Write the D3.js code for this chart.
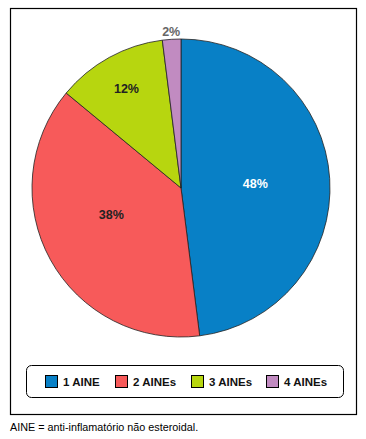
<!DOCTYPE html>
<html>
<head>
<meta charset="utf-8">
<script src="https://cdn.jsdelivr.net/npm/d3@7"></script>
<style>
  body { margin: 0; background: #fff; }
  text { font-family: "Liberation Sans", Arial, sans-serif; }
</style>
</head>
<body>
<script>
// categories and shares (%)
var categories = ["1 AINE", "2 AINEs", "3 AINEs", "4 AINEs"];
var values = [48, 38, 12, 2];
var colors = ["#0880c6", "#f75a5a", "#b7d60f", "#c18bc1"];

var width = 366, height = 439;

var svg = d3.select("body").append("svg")
    .attr("width", width)
    .attr("height", height);

// outer frame
svg.append("rect")
    .attr("x", 10.5).attr("y", 8.5)
    .attr("width", 346).attr("height", 406)
    .attr("fill", "none")
    .attr("stroke", "#000")
    .attr("stroke-width", 1.2);

var cx = 181, cy = 188, r = 149;

var pie = d3.pie().sort(null).value(function(d) { return d; });
var arc = d3.arc().innerRadius(0).outerRadius(r);
var arcs = pie(values);

var g = svg.append("g")
    .attr("transform", "translate(" + cx + "," + cy + ")");

g.selectAll("path")
    .data(arcs)
    .enter().append("path")
    .attr("d", arc)
    .attr("fill", function(d, i) { return colors[i]; })
    .attr("stroke", "#222")
    .attr("stroke-width", 0.8);

// labels: big slices closer to the centre, the tiny one outside
function labelRadius(v) {
  if (v >= 30) return r * 0.5;
  if (v >= 5) return r * 0.76;
  return r * 1.05;
}

g.selectAll(".lbl")
    .data(arcs)
    .enter().append("text")
    .attr("class", "lbl")
    .attr("transform", function(d) {
      var lr = labelRadius(d.data);
      // nudge the 38% label a little further round, as in the original
      var shift = (d.data == 38) ? 0.14 : 0;
      var a = d3.arc().innerRadius(lr).outerRadius(lr);
      var c = a.centroid({startAngle: d.startAngle + shift, endAngle: d.endAngle + shift});
      return "translate(" + c + ")";
    })
    .attr("dy", "0.35em")
    .attr("text-anchor", "middle")
    .style("font-size", "12.5px")
    .style("font-weight", "bold")
    .attr("fill", function(d, i) {
      if (i == 0) return "#fff";
      if (d.data < 5) return "#666";
      return "#222";
    })
    .text(function(d) { return d.data + "%"; });

// legend
svg.append("rect")
    .attr("x", 26.5).attr("y", 365.5)
    .attr("width", 317).attr("height", 32)
    .attr("rx", 5).attr("ry", 5)
    .attr("fill", "#fff")
    .attr("stroke", "#000")
    .attr("stroke-width", 1);

var legendX = [45, 115, 191, 266];

var item = svg.selectAll(".leg")
    .data(categories)
    .enter().append("g")
    .attr("class", "leg")
    .attr("transform", function(d, i) { return "translate(" + legendX[i] + ",375)"; });

item.append("rect")
    .attr("x", 0.5).attr("y", 0.5)
    .attr("width", 12).attr("height", 12)
    .attr("fill", function(d, i) { return colors[i]; })
    .attr("stroke", "#000")
    .attr("stroke-width", 1);

item.append("text")
    .attr("x", 18)
    .attr("y", 11)
    .style("font-size", "11.5px")
    .style("font-weight", "bold")
    .attr("fill", "#111")
    .text(function(d) { return d; });

// footnote
svg.append("text")
    .attr("x", 10)
    .attr("y", 431)
    .style("font-size", "10.8px")
    .attr("fill", "#000")
    .text("AINE = anti-inflamatório não esteroidal.");
</script>
</body>
</html>
